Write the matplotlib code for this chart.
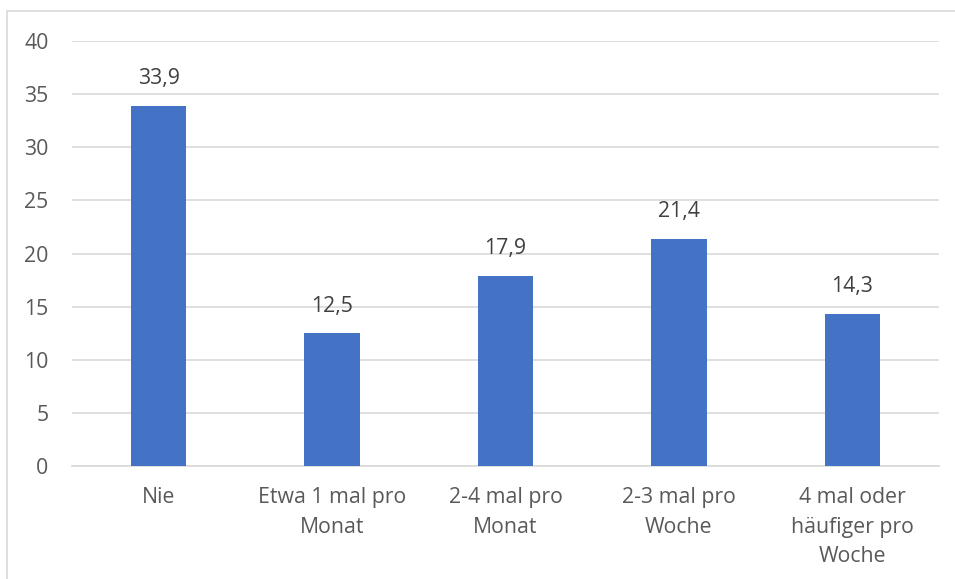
import matplotlib
matplotlib.use("Agg")
import matplotlib.pyplot as plt
from matplotlib.patches import Rectangle

categories = ["Nie", "Etwa 1 mal pro\nMonat", "2-4 mal pro\nMonat",
              "2-3 mal pro\nWoche", "4 mal oder\nhäufiger pro\nWoche"]
values = [33.9, 12.5, 17.9, 21.4, 14.3]
yticks = [0, 5, 10, 15, 20, 25, 30, 35, 40]

plt.rcParams["font.family"] = ["Open Sans", "DejaVu Sans"]
text_color = "#595959"
bar_color = "#4472C4"
grid_color = "#D9D9D9"

W, H = 955, 579
fig = plt.figure(figsize=(W / 100, H / 100), dpi=100)
fig.patch.set_facecolor("white")

# chart frame (extends past the right and bottom edges)
fig.patches.append(Rectangle((7 / W, -0.1), 1.2, 1 - 11 / H + 0.1,
                             transform=fig.transFigure, fill=False,
                             edgecolor="#D9D9D9", linewidth=1.2, zorder=0))

ax = fig.add_axes([72 / W, (H - 466) / H, (939 - 72) / W, (466 - 41) / H])
x = list(range(len(categories)))
bars = ax.bar(x, values, width=0.32, color=bar_color, zorder=3)

ax.set_xlim(-0.5, len(categories) - 0.5)
ax.set_ylim(0, 40)
ax.set_yticks(yticks)
ax.set_yticklabels([str(t) for t in yticks])
ax.set_xticks(x)
ax.set_xticklabels(categories, linespacing=1.55)

ax.grid(axis="y", color=grid_color, linewidth=1.2, zorder=0)
for s in ["top", "right", "left"]:
    ax.spines[s].set_visible(False)
ax.spines["bottom"].set_color(grid_color)
ax.spines["bottom"].set_linewidth(1.2)
ax.tick_params(axis="both", length=0, colors=text_color, labelsize=15.3)
ax.tick_params(axis="y", pad=17)
ax.tick_params(axis="x", pad=15)

for b, v in zip(bars, values):
    ax.annotate(f"{v:.1f}".replace(".", ","),
                (b.get_x() + b.get_width() / 2, v),
                xytext=(0, 12), textcoords="offset points",
                ha="center", va="bottom", fontsize=15.3, color="#404040")

fig.savefig("out.png", dpi=100, facecolor="white")
